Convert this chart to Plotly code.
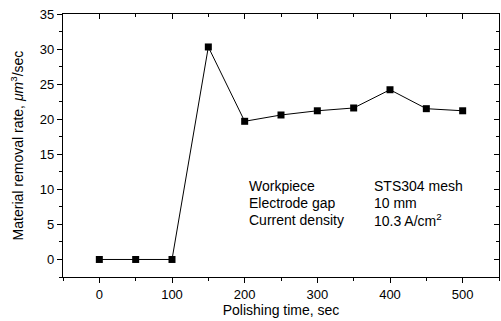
import plotly.graph_objects as go

time_s = [0, 50, 100, 150, 200, 250, 300, 350, 400, 450, 500]
removal_rate = [0, 0, 0, 30.3, 19.7, 20.6, 21.2, 21.6, 24.2, 21.5, 21.2]
x_ticks = [0, 100, 200, 300, 400, 500]
y_ticks = [0, 5, 10, 15, 20, 25, 30, 35]
info_labels = ["Workpiece", "Electrode gap", "Current density"]
info_values = ["STS304 mesh", "10 mm", "10.3 A/cm<sup>2</sup>"]

FONT = "Liberation Sans, Arial, sans-serif"

fig = go.Figure()
fig.add_trace(go.Scatter(
    x=time_s, y=removal_rate, mode="lines+markers",
    line=dict(color="black", width=1),
    marker=dict(symbol="square", size=7, color="black"),
    showlegend=False,
))
# invisible trace on secondary axes for mirrored inside ticks
fig.add_trace(go.Scatter(x=time_s, y=removal_rate, xaxis="x2", yaxis="y2",
                         mode="none", showlegend=False, hoverinfo="skip"))

axis_common = dict(showgrid=False, zeroline=False, showline=True, linecolor="black",
                   linewidth=1.3, tickcolor="black", tickwidth=1,
                   tickfont=dict(family=FONT, size=13, color="black"))

fig.update_layout(
    width=501, height=321,
    margin=dict(l=63, r=2, t=14, b=44),
    paper_bgcolor="white", plot_bgcolor="white",
    font=dict(family=FONT, color="black"),
    xaxis=dict(range=[-50, 550], tickvals=x_ticks, ticks="outside", ticklen=5,
               minor=dict(dtick=50, tick0=0, ticks="outside", ticklen=3, tickcolor="black"),
               title=dict(text="Polishing time, sec", font=dict(family=FONT, size=14), standoff=2),
               **axis_common),
    yaxis=dict(range=[-2.5, 35], tickvals=y_ticks, ticks="outside", ticklen=5,
               minor=dict(dtick=2.5, tick0=0, ticks="outside", ticklen=3, tickcolor="black"),
               title=dict(text="Material removal rate, <i>μm</i><sup>3</sup>/sec",
                          font=dict(family=FONT, size=14), standoff=12),
               **axis_common),
    xaxis2=dict(range=[-50, 550], overlaying="x", side="top", tickvals=x_ticks,
                ticks="inside", ticklen=5, showticklabels=False,
                minor=dict(dtick=50, tick0=0, ticks="inside", ticklen=3, tickcolor="black"),
                **axis_common),
    yaxis2=dict(range=[-2.5, 35], overlaying="y", side="right", anchor="x2", tickvals=y_ticks,
                ticks="inside", ticklen=5, showticklabels=False,
                minor=dict(dtick=2.5, tick0=0, ticks="inside", ticklen=3, tickcolor="black"),
                **axis_common),
)

row_y = [0.345, 0.281, 0.216]
for lab, val, yy in zip(info_labels, info_values, row_y):
    fig.add_annotation(x=0.423, y=yy, xref="paper", yref="paper", text=lab, showarrow=False,
                       xanchor="left", yanchor="middle", font=dict(family=FONT, size=14, color="black"))
    fig.add_annotation(x=0.709, y=yy, xref="paper", yref="paper", text=val, showarrow=False,
                       xanchor="left", yanchor="middle", font=dict(family=FONT, size=14, color="black"))

fig.write_html("out.html")
